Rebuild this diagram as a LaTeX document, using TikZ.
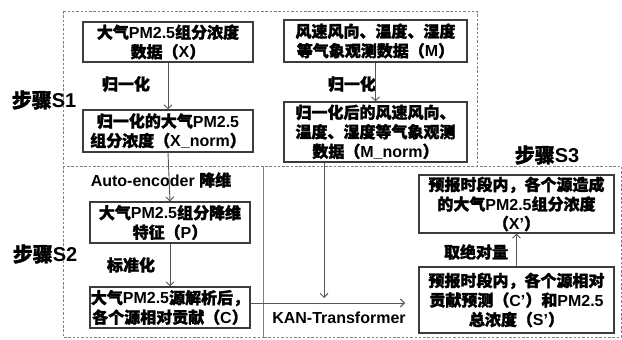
\documentclass[tikz,border=0pt]{standalone}
\usepackage{fontspec}
\setmainfont{Liberation Sans}
\newfontfamily\cjk{Noto Sans CJK SC}[FakeBold=1.6]
\usetikzlibrary{arrows.meta}
\newcommand\zh[1]{{\cjk #1}}
\definecolor{boxline}{HTML}{3C3C3C}
\definecolor{arrline}{HTML}{555555}
\definecolor{dashline}{HTML}{808080}
\begin{document}
\begin{tikzpicture}[x=1pt,y=-1pt,
  txt/.style={font=\fontsize{16}{19.5}\selectfont\bfseries, text=black, align=center, inner sep=0pt},
  box/.style={txt, draw=boxline, line width=1.1pt},
  steplabel/.style={font=\fontsize{20}{24}\selectfont\bfseries, text=black, inner sep=0pt},
  region/.style={draw=dashline, line width=0.9pt, dash pattern=on 2.5pt off 1.8pt},
  arr/.style={draw=arrline, line width=0.9pt, -{Straight Barb[length=4pt,width=8pt]}},
]
\useasboundingbox (0,0) rectangle (622,340);
% regions
\draw[region] (63,11) rectangle (477,166);
\draw[region] (63,166) rectangle (263,337);
\draw[region] (263,166) rectangle (621,337);
% step labels
\node[steplabel] (s1) at (44,100) {\zh{步骤}S1};
\node[steplabel] (s2) at (45,254) {\zh{步骤}S2};
\node[steplabel] (s3) at (547,155) {\zh{步骤}S3};
% boxes
\node[box, minimum width=170, minimum height=40] (X) at (168,42)
  {\zh{大气}PM2.5\zh{组分浓度}\\\zh{数据（}X\zh{）}};
\node[box, minimum width=170, minimum height=42] (Xn) at (168,131)
  {\zh{归一化的大气}PM2.5\\\zh{组分浓度（}X\_norm\zh{）}};
\node[box, minimum width=183, minimum height=42] (M) at (375.5,41)
  {\zh{风速风向、温度、湿度}\\\zh{等气象观测数据（}M\zh{）}};
\node[box, minimum width=183, minimum height=60] (Mn) at (375.5,132)
  {\zh{归一化后的风速风向、}\\\zh{温度、湿度等气象观测}\\\zh{数据（}M\_norm\zh{）}};
\node[box, minimum width=160, minimum height=41] (P) at (170,222.5)
  {\zh{大气}PM2.5\zh{组分降维}\\\zh{特征（}P\zh{）}};
\node[box, minimum width=160, minimum height=41] (C) at (170,307.5)
  {\zh{大气}PM2.5\zh{源解析后，}\\\zh{各个源相对贡献（}C\zh{）}};
\node[box, minimum width=195, minimum height=58] (Xp) at (516.5,204)
  {\zh{预报时段内，各个源造成}\\\zh{的大气}PM2.5\zh{组分浓度}\\\zh{（}X’\zh{）}};
\node[box, minimum width=195, minimum height=66] (Cp) at (516.5,300)
  {\zh{预报时段内，各个源相对}\\\zh{贡献预测（}C’\zh{）和}PM2.5\\\zh{总浓度（}S’\zh{）}};
% edge labels
\node[txt] (l1) at (126,84) {\zh{归一化}};
\node[txt] (l2) at (352,84) {\zh{归一化}};
\node[txt] (l3) at (161,180) {Auto-encoder \zh{降维}};
\node[txt] (l4) at (131,265) {\zh{标准化}};
\node[txt] (l5) at (339,318) {KAN-Transformer};
\node[txt] (l6) at (476,252) {\zh{取绝对量}};
% connectors
\coordinate (cend) at (405,303);
\coordinate (mend) at (324,298);
\draw[arr] (X.south) -- (Xn.north);
\draw[arr] (M.south) -- (Mn.north);
\draw[arr] (Xn.south) -- (P.north);
\draw[arr] (P.south) -- (C.north);
\draw[arr] (Mn.south -| mend) -- (mend);
\draw[arr] (C.east |- cend) -- (cend);
\draw[arr] (Cp.north) -- (Xp.south);
\end{tikzpicture}
\end{document}
